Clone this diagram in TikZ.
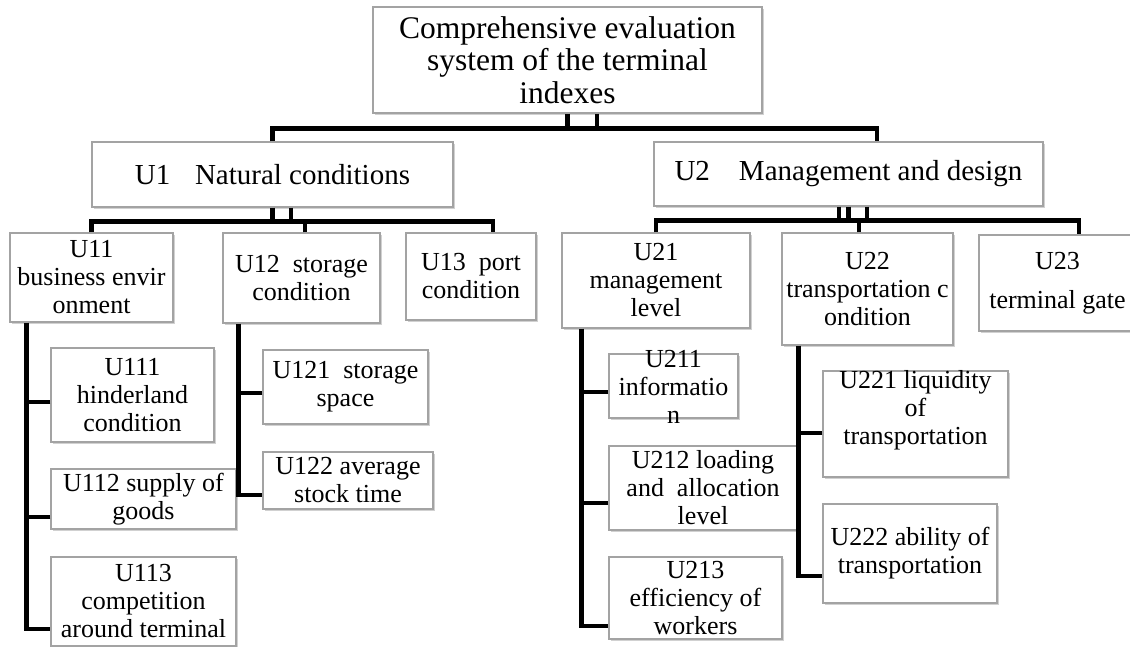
\documentclass[tikz,border=0pt]{standalone}
\usepackage{fontspec}
\setmainfont{Liberation Serif}
\usepackage{xcolor}
\usepackage{tikz}
\usetikzlibrary{shadows}
\definecolor{idxBorder}{HTML}{A3A3A3}
\definecolor{idxShade}{HTML}{9A9A9A}
\tikzset{
  idx diagram/.style={x=0.5pt, y=-0.5pt, line join=miter},
  idx box/.style={draw=idxBorder, fill=white, line width=0.7pt,
    align=center, inner sep=1pt, text=black,
    font=\fontsize{13}{14}\selectfont,
    drop shadow={shadow xshift=1pt, shadow yshift=-1.2pt, fill=idxShade, opacity=0.45}},
  idx head/.style={idx box, font=\fontsize{14.5}{16}\selectfont},
  idx root/.style={idx box, font=\fontsize{15.75}{16.25}\selectfont},
  idx line/.style={draw=black, line width=2.4pt}
}

\begin{document}
\begin{tikzpicture}[idx diagram]
\useasboundingbox (0,0) rectangle (1130,647);
% levels 0 and 1
\node[idx root,minimum width=194.5pt,minimum height=53pt] (root) at (567.5,60) {Comprehensive evaluation\\system of the terminal\\indexes};
\node[idx head,minimum width=180.5pt,minimum height=32.5pt] (U1) at (272.5,174.5) {U1\hspace{0.85em}Natural conditions};
\node[idx head,minimum width=194.5pt,minimum height=32pt] (U2) at (848.5,174) {U2\quad Management and design};
% level 2
\node[idx box,minimum width=81.5pt,minimum height=44.5pt] (U11) at (91.5,277.5) {U11\\business envir\\onment};
\node[idx box,minimum width=78.5pt,minimum height=45pt] (U12) at (301.5,278) {U12~ storage\\condition};
\node[idx box,minimum width=65pt,minimum height=43.5pt] (U13) at (471,276.5) {U13~ port\\condition};
\node[idx box,minimum width=94pt,minimum height=47.5pt] (U21) at (656,280.5) {U21\\management\\level};
\node[idx box,minimum width=85.5pt,minimum height=56pt] (U22) at (867.5,289) {U22\\transportation c\\ondition};
\node[idx box,minimum width=78.5pt,minimum height=48pt] (U23) at (1057.5,283) {U23\\[5.5pt]terminal gate};
% level 3
\node[idx box,minimum width=81.5pt,minimum height=47pt] (U111) at (132.5,395) {U111\\hinderland\\condition};
\node[idx box,minimum width=92.5pt,minimum height=30pt] (U112) at (143.5,499) {U112 supply of\\goods};
\node[idx box,minimum width=92.5pt,minimum height=44.5pt] (U113) at (143.5,601.5) {U113\\competition\\around terminal};
\node[idx box,minimum width=82.5pt,minimum height=37pt] (U121) at (345.5,387) {U121~ storage\\space};
\node[idx box,minimum width=85pt,minimum height=28.5pt] (U122) at (348,480.5) {U122 average\\stock time};
\node[idx box,minimum width=64.5pt,minimum height=32pt,text height=37pt,text depth=0pt,inner ysep=-3pt] (U211) at (673.5,386) {U211\\informatio\\n};
\node[idx box,minimum width=94pt,minimum height=42pt] (U212) at (703,488) {U212 loading\\and~ allocation\\level};
\node[idx box,minimum width=86.5pt,minimum height=41pt] (U213) at (695.5,598) {U213\\efficiency of\\workers};
\node[idx box,minimum width=92.5pt,minimum height=53pt,text height=20pt,text depth=0pt] (U221) at (915.5,424) {U221 liquidity\\of\\transportation};
\node[idx box,minimum width=87pt,minimum height=49.5pt] (U222) at (910,553.5) {U222 ability of\\transportation};
% root to U1, U2
\draw[idx line] (root.south) -- ++(0,15) coordinate (bus0);
\draw[idx line] ([xshift=14.75pt]root.south) -- ++(0,15);
\draw[idx line] (U1.north) |- (bus0) -| ([xshift=14.25pt]U2.north);
% U1 to its indexes
\draw[idx line] (U1.south) -- ++(0,14) coordinate (bus1);
\draw[idx line] ([xshift=9.25pt]U1.south) -- ++(0,14);
\draw[idx line] (U11.north) |- (bus1) -| ([xshift=11pt]U13.north);
\draw[idx line] ([xshift=1.75pt]U12.north) -- ++(0,-12);
% U2 to its indexes
\draw[idx line] (U2.south) -- ++(0,14) coordinate (bus2);
\draw[idx line] ([xshift=-4.75pt]U2.south) -- ++(0,14);
\draw[idx line] ([xshift=9.25pt]U2.south) -- ++(0,14);
\draw[idx line] (U21.north) |- (bus2) -| ([xshift=10.75pt]U23.north);
\draw[idx line] ([xshift=-4.25pt]U22.north) -- ++(0,-13);
% side stems
\coordinate (stem11) at ([xshift=8.5pt]U11.south west);
\draw[idx line] (stem11) |- ([yshift=-13.75pt]U113.west);
\draw[idx line] ([yshift=-3.5pt]U111.west) -| (stem11);
\draw[idx line] ([yshift=-9pt]U112.west) -| (stem11);
\coordinate (stem12) at ([xshift=8pt]U12.south west);
\draw[idx line] (stem12) |- ([yshift=-7.25pt]U122.west);
\draw[idx line] ([yshift=-3pt]U121.west) -| (stem12);
\coordinate (stem21) at ([xshift=10pt]U21.south west);
\draw[idx line] (stem21) |- ([yshift=-14pt]U213.west);
\draw[idx line] ([yshift=-3pt]U211.west) -| (stem21);
\draw[idx line] ([yshift=-7.5pt]U212.west) -| (stem21);
\coordinate (stem22) at ([xshift=8.5pt]U22.south west);
\draw[idx line] (stem22) |- ([yshift=-11.25pt]U222.west);
\draw[idx line] ([yshift=-4.5pt]U221.west) -| (stem22);
\end{tikzpicture}
\end{document}
